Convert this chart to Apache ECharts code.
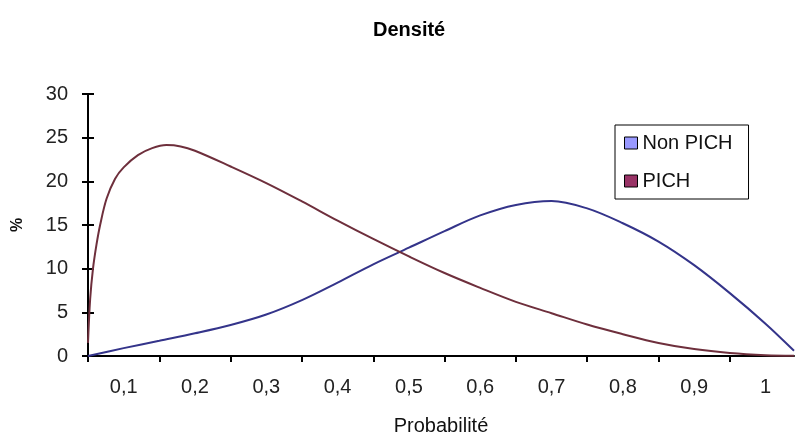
<!DOCTYPE html>
<html>
<head>
<meta charset="utf-8">
<script src="https://cdn.jsdelivr.net/npm/echarts@6/dist/echarts.min.js"></script>
<style>
  html, body { margin: 0; padding: 0; background: #fff; }
  #chart { width: 795px; height: 441px; }
</style>
</head>
<body>
<div id="chart"></div>
<script>
// x = probabilité, y = densité en %
const xNonPich = [0.05, 0.10, 0.15, 0.20, 0.25, 0.30, 0.35, 0.40, 0.45, 0.50, 0.55, 0.60, 0.65, 0.70, 0.75, 0.80, 0.85, 0.90, 0.95, 1.00, 1.04];
const nonPich  = [0, 0.9, 1.75, 2.6, 3.55, 4.75, 6.4, 8.4, 10.5, 12.4, 14.3, 16.1, 17.3, 17.75, 16.9, 15.2, 13.1, 10.4, 7.2, 3.7, 0.6];

const xPich = [0.05, 0.053, 0.057, 0.062, 0.067, 0.076, 0.088, 0.10, 0.12, 0.14, 0.16, 0.18, 0.20, 0.25, 0.30, 0.35, 0.40, 0.45, 0.50, 0.55, 0.60, 0.65, 0.70, 0.75, 0.80, 0.85, 0.90, 0.95, 1.00, 1.04];
const pich  = [1.5, 6.5, 10, 12.8, 15, 18, 20.3, 21.6, 23.0, 23.8, 24.15, 24.0, 23.5, 21.7, 19.8, 17.7, 15.5, 13.4, 11.4, 9.5, 7.8, 6.2, 4.9, 3.6, 2.5, 1.5, 0.8, 0.35, 0.1, 0.03];

const tickValues  = [0.05, 0.15, 0.25, 0.35, 0.45, 0.55, 0.65, 0.75, 0.85, 0.95];
const labelValues = [0.1, 0.2, 0.3, 0.4, 0.5, 0.6, 0.7, 0.8, 0.9, 1];

const font = '"Liberation Sans", Arial, sans-serif';
const chart = echarts.init(document.getElementById('chart'));

const zip = (xs, ys) => xs.map((x, i) => [x, ys[i]]);

chart.setOption({
  backgroundColor: '#fff',
  animation: false,
  title: {
    text: 'Densité',
    left: 368,
    top: 15,
    textStyle: { fontFamily: font, fontSize: 20, fontWeight: 'bold', color: '#000' }
  },
  legend: {
    orient: 'vertical',
    left: 615,
    top: 125,
    padding: [8, 16, 8, 9],
    itemGap: 18,
    itemWidth: 13,
    itemHeight: 12,
    borderColor: '#000',
    borderWidth: 1,
    textStyle: { fontFamily: font, fontSize: 20, color: '#111' },
    data: [
      { name: 'Non PICH', icon: 'rect', itemStyle: { color: '#9999ff', borderColor: '#000', borderWidth: 1 } },
      { name: 'PICH', icon: 'rect', itemStyle: { color: '#993366', borderColor: '#000', borderWidth: 1 } }
    ]
  },
  grid: { left: 88, right: 1, top: 94, bottom: 82 },
  xAxis: {
    type: 'value',
    min: 0.05,
    max: 1.04,
    name: 'Probabilité',
    nameLocation: 'middle',
    nameGap: 60,
    nameTextStyle: { fontFamily: font, fontSize: 20, color: '#111' },
    splitLine: { show: false },
    axisLine: { lineStyle: { color: '#000', width: 2 } },
    axisTick: { length: 6, lineStyle: { color: '#000', width: 2 }, customValues: tickValues },
    axisLabel: {
      customValues: labelValues,
      margin: 21,
      fontFamily: font,
      fontSize: 20,
      color: '#222',
      formatter: v => String(v).replace('.', ',')
    }
  },
  yAxis: [{
    type: 'value',
    min: 0,
    max: 30,
    interval: 5,
    name: '%',
    nameLocation: 'middle',
    nameGap: 62,
    nameRotate: 90,
    nameTextStyle: { fontFamily: font, fontSize: 16, fontWeight: 'bold', color: '#111' },
    splitLine: { show: false },
    axisLine: { show: true, lineStyle: { color: '#000', width: 2 } },
    axisTick: { show: true, length: 6, lineStyle: { color: '#000', width: 2 } },
    axisLabel: { margin: 20, fontFamily: font, fontSize: 20, color: '#222' }
  }, {
    // inner half of the crossing ticks
    type: 'value',
    position: 'left',
    min: 0,
    max: 30,
    interval: 5,
    splitLine: { show: false },
    axisLine: { show: false },
    axisTick: { show: true, inside: true, length: 6, lineStyle: { color: '#000', width: 2 } },
    axisLabel: { show: false }
  }],
  series: [
    {
      name: 'Non PICH',
      type: 'line',
      data: zip(xNonPich, nonPich),
      smooth: 0.35,
      showSymbol: false,
      color: '#9999ff',
      lineStyle: { color: '#34348a', width: 2 }
    },
    {
      name: 'PICH',
      type: 'line',
      data: zip(xPich, pich),
      smooth: 0.35,
      showSymbol: false,
      color: '#993366',
      lineStyle: { color: '#6e2f3c', width: 2 }
    }
  ]
});
</script>
</body>
</html>
